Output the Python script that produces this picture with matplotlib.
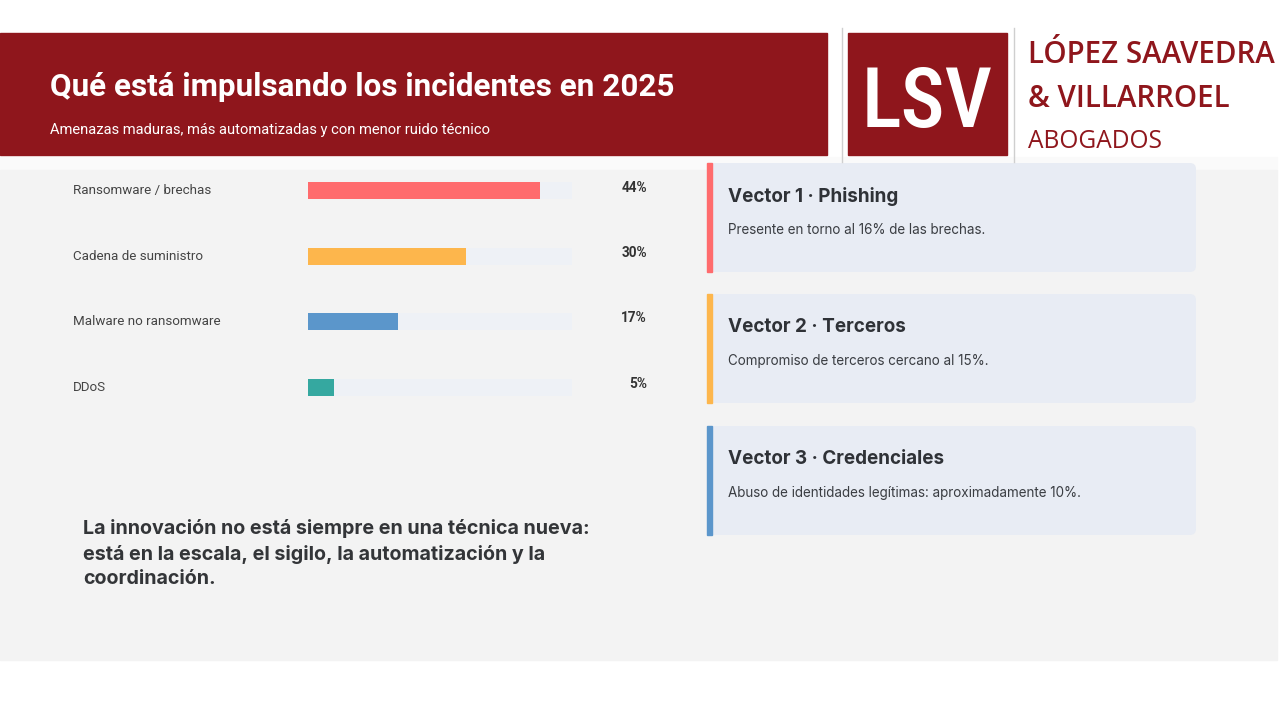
import matplotlib
matplotlib.use("Agg")
import matplotlib.pyplot as plt
from matplotlib import font_manager
from matplotlib.patches import Rectangle, FancyBboxPatch
from matplotlib.transforms import blended_transform_factory

# ----------------------------
# Data
# ----------------------------
categories = ["Ransomware / brechas", "Cadena de suministro",
              "Malware no ransomware", "DDoS"]
values = [44, 30, 17, 5]
bar_colors = ["#ff6b6d", "#fdb64c", "#5b96cb", "#35a8a0"]
track_max = 50

title = "Qué está impulsando los incidentes en 2025"
subtitle = "Amenazas maduras, más automatizadas y con menor ruido técnico"

card_titles = ["Vector 1 · Phishing", "Vector 2 · Terceros",
               "Vector 3 · Credenciales"]
card_texts = ["Presente en torno al 16% de las brechas.",
              "Compromiso de terceros cercano al 15%.",
              "Abuso de identidades legítimas: aproximadamente 10%."]
card_colors = ["#ff6b6d", "#fdb64c", "#5b96cb"]

quote = ("La innovación no está siempre en una técnica nueva:\n"
         "está en la escala, el sigilo, la automatización y la\n"
         "coordinación.")

logo_lines = ["LÓPEZ SAAVEDRA", "& VILLARROEL", "ABOGADOS"]

RED = "#8f161c"
W, H = 1280, 720

# pick a narrow family for the logo if one is installed
installed = {f.name for f in font_manager.fontManager.ttflist}
narrow_font = next((f for f in ["Roboto Condensed", "Open Sans Condensed",
                                "PT Sans Narrow", "Fira Sans Condensed"]
                    if f in installed), "Open Sans")

fig = plt.figure(figsize=(12.8, 7.2), dpi=100)
fig.patch.set_facecolor("white")
renderer = fig.canvas.get_renderer()


def fit_width(txt, target):
    # scale font size so the text spans target pixels
    w = txt.get_window_extent(renderer).width
    txt.set_fontsize(txt.get_fontsize() * target / w)


# background axes in pixel units
bg = fig.add_axes([0, 0, 1, 1])
bg.set_xlim(0, W)
bg.set_ylim(H, 0)
bg.axis("off")

bg.add_patch(Rectangle((0, 157), 1277, 13, color="#fafafa", zorder=0))
bg.add_patch(Rectangle((0, 170), 1277, 490, color="#f3f3f3", zorder=0))

# ----------------------------
# Header banner
# ----------------------------
bg.add_patch(Rectangle((0, 33), 827, 122, color=RED, zorder=1))
bg.text(50, 87, title, color="white", fontsize=22.6, fontweight="bold",
        family="Roboto", va="center", ha="left")
bg.text(50, 130, subtitle, color="white", fontsize=10.6,
        family="Roboto", va="center", ha="left")

# ----------------------------
# Logo
# ----------------------------
bg.plot([842, 842], [28, 162], color="#cfcfcf", lw=1)
bg.plot([1014, 1014], [28, 162], color="#cfcfcf", lw=1)
bg.add_patch(Rectangle((848, 33), 159, 122, color=RED, zorder=1))
lsv = bg.text(927.5, 127, "LSV", color="white", fontsize=58,
              family=narrow_font, fontweight="medium",
              va="baseline", ha="center", zorder=2)
fit_width(lsv, 131)

logo_base = [63, 107, 148]
logo_width = [247, 202, 134]
logo_weight = ["semibold", "semibold", "normal"]
for s, yb, wd, fw in zip(logo_lines, logo_base, logo_width, logo_weight):
    t = bg.text(1028, yb, s, color=RED, fontsize=20, fontweight=fw,
                family="Open Sans", va="baseline", ha="left")
    fit_width(t, wd)

# ----------------------------
# Cards
# ----------------------------
card_tops = [163, 294, 426]
for top, t, body, c in zip(card_tops, card_titles, card_texts, card_colors):
    bg.add_patch(FancyBboxPatch((707, top), 489, 109,
                                boxstyle="round,pad=0,rounding_size=6",
                                fc="#e8ecf4", ec="none", zorder=1))
    bg.add_patch(Rectangle((707, top), 5, 109, color=c, zorder=2))
    bg.text(728, top + 33, t, color="#2f3237", fontsize=13.6,
            fontweight="bold", family="Inter", va="center", ha="left")
    bg.text(728, top + 67, body, color="#3a3d42", fontsize=9.7,
            family="Inter", va="center", ha="left")

# quote
bg.text(83, 519, quote, color="#333538", fontsize=14.2, fontweight="bold",
        family="Inter", va="top", ha="left", linespacing=1.45)

# ----------------------------
# Bar chart
# ----------------------------
x0, x1 = 308, 308 + 5.27 * track_max
y_top, y_bot = 158.3, 419.7
ax = fig.add_axes([x0 / W, 1 - y_bot / H, (x1 - x0) / W, (y_bot - y_top) / H])
ax.set_xlim(0, track_max)
ax.set_ylim(len(categories) - 0.5, -0.5)
ax.axis("off")

rows = list(range(len(categories)))
ax.barh(rows, [track_max] * len(categories), height=0.26,
        color="#eef1f6", zorder=1)
ax.barh(rows, values, height=0.26, color=bar_colors, zorder=2)

tr = blended_transform_factory(fig.transFigure, ax.transData)
for i, (cat, v) in enumerate(zip(categories, values)):
    ax.text(73 / W, i, cat, transform=tr, fontsize=9.6, color="#444444",
            family="Roboto", va="center", ha="left")
    ax.text(647 / W, i - 0.05, f"{v}%", transform=tr, fontsize=9.8,
            color="#333333", fontweight="bold", family="Roboto",
            va="center", ha="right")

fig.savefig("out.png", dpi=100, facecolor=fig.get_facecolor())
